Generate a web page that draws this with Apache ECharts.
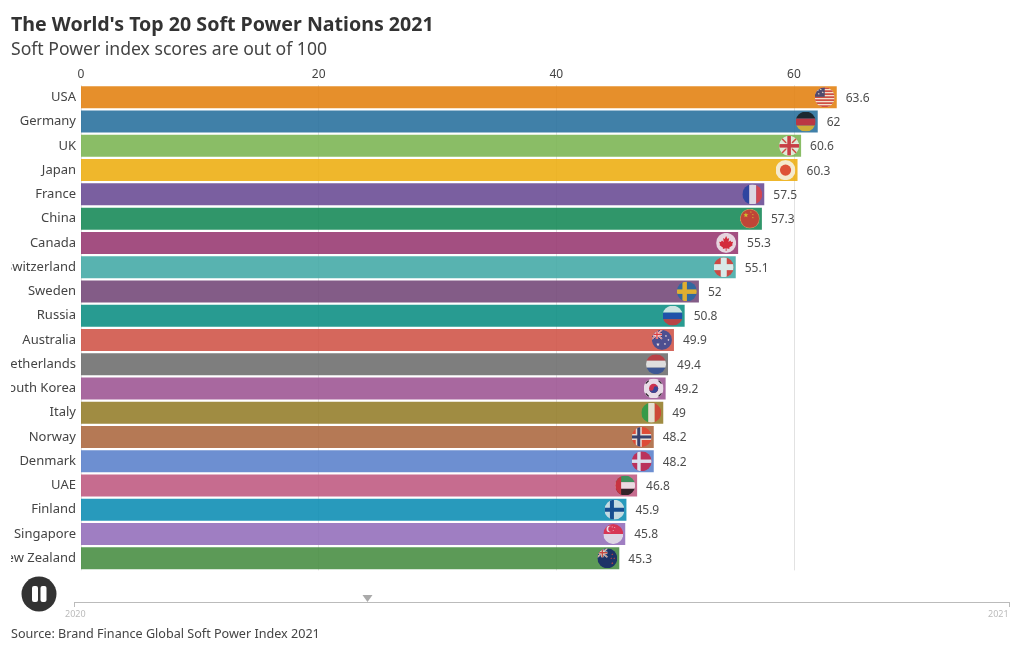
<!DOCTYPE html>
<html><head><meta charset="utf-8">
<style>html,body{margin:0;padding:0;background:#fff}#c{width:1020px;height:650px}</style>
<script src="https://cdn.jsdelivr.net/npm/echarts@6/dist/echarts.min.js"></script>
</head><body><div id="c"></div>
<script>
const titleText = "The World's Top 20 Soft Power Nations 2021";
const subtitleText = "Soft Power index scores are out of 100";
const sourceText = "Source: Brand Finance Global Soft Power Index 2021";
const categories = ["USA","Germany","UK","Japan","France","China","Canada","Switzerland","Sweden","Russia","Australia","Netherlands","South Korea","Italy","Norway","Denmark","UAE","Finland","Singapore","New Zealand"];
const scores = [63.6,62,60.6,60.3,57.5,57.3,55.3,55.1,52,50.8,49.9,49.4,49.2,49,48.2,48.2,46.8,45.9,45.8,45.3];
const barColors = ["#E68E2B","#3F7FA8","#8ABD66","#EFB72C","#7A5FA0","#2F9669","#A34F80","#58B3B0","#835C86","#279B91","#D5675B","#7E7E7E","#A8689F","#A08C42","#B57855","#6D8FD1","#C66C8F","#279ABC","#9F7EC2","#5C9A57"];
const xTicks = [0,20,40,60];
const timelineLabels = ["2020","2021"];
const BAR_OPACITY = 0.88;
// colours above are as seen on white; undo the bar opacity so the result matches
const baseColor = h => '#'+[1,3,5].map(i=>{const s=parseInt(h.substr(i,2),16);
  return Math.max(0,Math.min(255,Math.round((s-255*(1-BAR_OPACITY))/BAR_OPACITY))).toString(16).padStart(2,'0');}).join('');

const R='#E0333C',B='#27408B',W='#F5F5F5';
const rect=(x,y,w,h,c)=>`<rect x="${x}" y="${y}" width="${w}" height="${h}" fill="${c}"/>`;
const circ=(x,y,r,c)=>`<circle cx="${x}" cy="${y}" r="${r}" fill="${c}"/>`;
const star=(x,y,r,c)=>{let p=[];for(let i=0;i<10;i++){const a=-Math.PI/2+i*Math.PI/5,q=i%2?r*0.42:r;p.push((x+q*Math.cos(a)).toFixed(2)+','+(y+q*Math.sin(a)).toFixed(2));}return `<polygon points="${p.join(' ')}" fill="${c}"/>`;};
const miniJack=`<rect width="10" height="9" fill="#1F2E7A"/><path d="M0 0L10 9M10 0L0 9" stroke="#fff" stroke-width="1.6"/><path d="M0 0L10 9M10 0L0 9" stroke="${R}" stroke-width=".6"/><path d="M5 0V9M0 4.5H10" stroke="#fff" stroke-width="2.4"/><path d="M5 0V9M0 4.5H10" stroke="${R}" stroke-width="1.3"/>`;
const flags = {
  USA: rect(0,0,20,20,W)+[0,3,6,9,12,15,18].map(y=>rect(0,y,20,1.6,'#C8313E')).join('')+rect(0,0,10,9.5,'#2B3A7E')+[[3,3],[6,2],[8,5],[4,6.5]].map(p=>star(p[0],p[1],1.1,'#fff')).join(''),
  Germany: rect(0,0,20,7,'#141414')+rect(0,7,20,7,'#D9262C')+rect(0,14,20,6,'#F2B91D'),
  UK: rect(0,0,20,20,'#F3F3F3')+`<path d="M0 0L20 20M20 0L0 20" stroke="${R}" stroke-width="1.5"/>`+rect(7.5,0,5,20,'#fff')+rect(0,7.5,20,5,'#fff')+rect(8.2,0,3.6,20,'#D8203E')+rect(0,8.2,20,3.6,'#D8203E'),
  Japan: rect(0,0,20,20,'#F7F7F7')+circ(10,10,5.6,'#DB3A3A'),
  France: rect(0,0,7,20,'#1E3FA0')+rect(7,0,7,20,W)+rect(14,0,6,20,'#E8403F'),
  China: circ(10,10,10,'#D9A05B')+circ(10,10,9.2,'#E5322B')+star(6,6.5,2.6,'#F5D020')+star(11,3.5,.9,'#F5D020')+star(13,6,.9,'#F5D020')+star(13,9,.9,'#F5D020'),
  Canada: rect(0,0,20,20,'#F7F7F7')+`<polygon points="10,3 11.4,6 13,5.2 12.4,9 14.2,7.6 15.2,9.2 17,8.8 16,11.6 16.8,12.2 13,14.8 13.4,16 10.4,15.4 10.4,18 9.6,18 9.6,15.4 6.6,16 7,14.8 3.2,12.2 4,11.6 3,8.8 4.8,9.2 5.8,7.6 7.6,9 7,5.2 8.6,6" fill="#E0242B"/>`,
  Switzerland: rect(0,0,20,20,'#E8302B')+rect(7,0,6,20,'#F8F8F8')+rect(0,7,20,6,'#F8F8F8'),
  Sweden: rect(0,0,20,20,'#1F6AA5')+rect(5.5,0,4.5,20,'#F6C41C')+rect(0,8,20,4.5,'#F6C41C'),
  Russia: rect(0,0,20,7,'#F6F6F6')+rect(0,7,20,6.5,'#1E40B0')+rect(0,13.5,20,6.5,'#DC2F34'),
  Australia: rect(0,0,20,20,'#2C4A9E')+miniJack+star(14,6,1.3,'#fff')+star(16.5,10,1.2,'#fff')+star(13,14,1.3,'#fff')+star(6,14.5,1.8,'#fff'),
  Netherlands: rect(0,0,20,6.5,'#C8323A')+rect(0,6.5,20,7,'#F6F6F6')+rect(0,13.5,20,6.5,'#2F4E9A'),
  "South Korea": rect(0,0,20,20,'#F8F8F8')+circ(10,10,4.6,'#D5263A')+`<path d="M5.4 10A4.6 4.6 0 0 0 14.6 10A2.3 2.3 0 0 0 10 10A2.3 2.3 0 0 1 5.4 10Z" fill="#1F3F94"/><path d="M2 5L5 2M15 2L18 5M2 15L5 18M15 18L18 15" stroke="#222" stroke-width="1.6"/>`,
  Italy: rect(0,0,7,20,'#1E9E4A')+rect(7,0,6.5,20,W)+rect(13.5,0,6.5,20,'#D93A36'),
  Norway: rect(0,0,20,20,'#E8402F')+rect(4,0,6,20,'#F4F4F4')+rect(0,7,20,6,'#F4F4F4')+rect(5.5,0,3,20,'#1B3573')+rect(0,8.5,20,3,'#1B3573'),
  Denmark: rect(0,0,20,20,'#CE1C3F')+rect(5.5,0,3.4,20,'#F6F6F6')+rect(0,8.3,20,3.4,'#F6F6F6'),
  UAE: rect(0,0,20,6.7,'#1E9A50')+rect(0,6.7,20,6.6,'#F6F6F6')+rect(0,13.3,20,6.7,'#111')+rect(0,0,6,20,'#C8272E'),
  Finland: rect(0,0,20,20,'#ECECEC')+rect(5.5,0,4,20,'#123C87')+rect(0,8,20,4,'#123C87'),
  Singapore: rect(0,0,20,10,'#E5263A')+rect(0,10,20,10,'#EDEDED')+circ(6.5,5,3.2,'#F6F6F6')+circ(8,5,3,'#E5263A')+star(9,3,.8,'#fff')+star(11.5,3.5,.8,'#fff')+star(10,6.5,.8,'#fff'),
  "New Zealand": rect(0,0,20,20,'#0E1A6B')+miniJack+star(15,6,1.1,'#E03040')+star(17,10,1.1,'#E03040')+star(14,10,1,'#E03040')+star(15,15,1.2,'#E03040')
};
const flagSymbol = n => 'image://data:image/svg+xml;charset=utf-8,'+encodeURIComponent(
  `<svg xmlns="http://www.w3.org/2000/svg" width="60" height="60" viewBox="0 0 20 20"><defs><clipPath id="a"><circle cx="10" cy="10" r="10"/></clipPath></defs><g clip-path="url(#a)">${flags[n]}</g></svg>`);

const FONT = '"Noto Sans", sans-serif';
const chart = echarts.init(document.getElementById('c'), null, {renderer:'canvas'});
chart.setOption({
  animation:false,
  backgroundColor:'#fff',
  textStyle:{fontFamily:FONT},
  title:[
    {text:titleText,left:6,top:10,textStyle:{fontFamily:FONT,fontSize:19.6,fontWeight:'bold',color:'#333'}},
    {text:subtitleText,left:6,top:36,textStyle:{fontFamily:FONT,fontSize:17.6,fontWeight:'normal',color:'#444'}},
    {text:sourceText,left:6,top:623,textStyle:{fontFamily:FONT,fontSize:12.6,fontWeight:'normal',color:'#444'}}
  ],
  grid:{left:81,top:85.2,width:831.8,height:485.2,outerBoundsMode:'none'},
  xAxis:{type:'value',position:'top',min:0,max:70,
    axisLine:{show:false},
    axisTick:{show:false,customValues:xTicks},
    axisLabel:{color:'#444',fontSize:12,margin:4.5,customValues:xTicks,fontFamily:FONT},
    splitLine:{show:true,lineStyle:{color:'#e2e2e2',width:1}}
  },
  yAxis:{type:'category',inverse:true,data:categories,
    axisLine:{show:false},axisTick:{show:false},splitLine:{show:false},
    axisLabel:{color:'#444',fontSize:13,margin:5,fontFamily:FONT}
  },
  series:[
    {type:'bar',z:2,barWidth:22,data:scores.map((v,i)=>({value:v,itemStyle:{color:baseColor(barColors[i]),opacity:BAR_OPACITY}})),
      label:{show:true,position:'right',distance:8,offset:[1,1],color:'#333',fontSize:12,fontFamily:FONT}},
    {type:'scatter',z:5,symbolSize:20,symbolOffset:[-12,0],silent:true,
      data:scores.map((v,i)=>({value:[v,categories[i]],symbol:flagSymbol(categories[i])}))}
  ],
  graphic:[
    {type:'rect',z:100,shape:{x:0,y:84,width:11,height:487},style:{fill:'#fff'}},
    {type:'circle',z:100,shape:{cx:39,cy:594,r:17.5},style:{fill:'#333'}},
    {type:'rect',z:101,shape:{x:32,y:586,width:6,height:16,r:2},style:{fill:'#fff'}},
    {type:'rect',z:101,shape:{x:40.5,y:586,width:6,height:16,r:2},style:{fill:'#fff'}},
    {type:'line',z:100,shape:{x1:74.5,y1:602.5,x2:1009.5,y2:602.5},style:{stroke:'#bbb',lineWidth:1}},
    {type:'line',z:100,shape:{x1:74.5,y1:602,x2:74.5,y2:607},style:{stroke:'#bbb',lineWidth:1}},
    {type:'line',z:100,shape:{x1:1009.5,y1:602,x2:1009.5,y2:607},style:{stroke:'#bbb',lineWidth:1}},
    {type:'polygon',z:100,shape:{points:[[362.5,595],[372.5,595],[367.5,602]]},style:{fill:'#aaa'}},
    {type:'text',z:100,left:65,top:609.5,style:{text:timelineLabels[0],fill:'#bbb',fontSize:9,fontFamily:FONT}},
    {type:'text',z:100,left:988,top:609.5,style:{text:timelineLabels[1],fill:'#bbb',fontSize:9,fontFamily:FONT}}
  ]
});
</script></body></html>
